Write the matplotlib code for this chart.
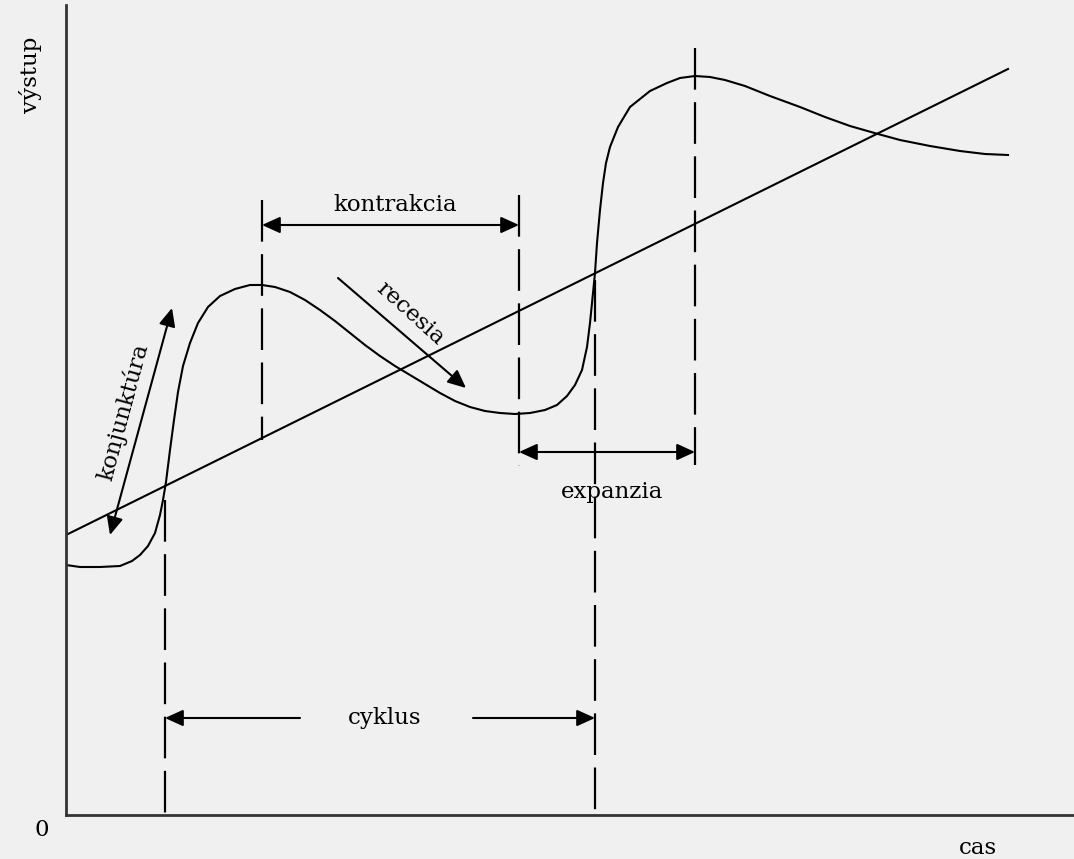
import matplotlib.pyplot as plt

plt.rcParams['lines.scale_dashes'] = False

# values (x grows to the right, y grows downward)
curve_x = [66, 80, 100, 120, 132, 140, 148, 155, 160, 163, 166, 170, 174, 178, 183, 190,
           198, 208, 220, 235, 250, 262, 275, 290, 305, 320, 335, 350, 365, 380, 395, 410,
           425, 440, 455, 470, 485, 500, 515, 530, 545, 557, 567, 575, 582, 587, 590, 593,
           595, 597, 600, 603, 606, 610, 618, 630, 640, 650, 667, 680, 695, 710, 725, 745,
           770, 800, 825, 850, 878, 900, 930, 960, 985, 1008]
curve_y = [565, 567, 567, 566, 561, 555, 546, 533, 515, 500, 482, 450, 420, 392, 366, 343,
           323, 307, 296, 289, 285, 285, 287, 292, 300, 310, 321, 333, 345, 356, 366, 375,
           384, 393, 401, 407, 411, 413, 414, 413, 410, 405, 396, 385, 370, 347, 323, 293,
           273, 243, 210, 183, 163, 147, 127, 107, 99, 91, 83, 78, 76, 77, 80, 86,
           96, 107, 117, 126, 134, 140, 146, 151, 154, 155]

trend_x = [66, 1008]
trend_y = [535, 69]

# vertical dashed markers: x, y top, y bottom
markers = [(165, 500, 815), (262, 200, 440), (519, 195, 466), (595, 280, 815), (695, 48, 465)]

fig = plt.figure(figsize=(10.74, 8.59), dpi=100, facecolor='#f0f0f0')
ax = fig.add_axes([66 / 1074, 44 / 859, 1008 / 1074, 810 / 859])
ax.set_facecolor('#f0f0f0')
ax.set_xlim(66, 1074)
ax.set_ylim(815, 5)
ax.set_xticks([])
ax.set_yticks([])
for side in ['top', 'right']:
    ax.spines[side].set_visible(False)
for side in ['left', 'bottom']:
    ax.spines[side].set_linewidth(2)
    ax.spines[side].set_color('#333333')

ax.plot(curve_x, curve_y, color='black', lw=1.5, solid_joinstyle='round')
ax.plot(trend_x, trend_y, color='black', lw=1.5)

for x, y0, y1 in markers:
    ax.plot([x, x], [y0, y1], color='black', lw=1.6, dashes=(30, 9))

font = dict(family='DejaVu Serif', fontsize=16.5, color='black')
arrow = dict(arrowstyle='-|>,head_length=1.1,head_width=0.5', color='black', lw=1.5,
             shrinkA=0, shrinkB=0)
darrow = dict(arrow, arrowstyle='<|-|>,head_length=1.1,head_width=0.5')

# kontrakcia
ax.annotate('', xy=(519, 225), xytext=(262, 225), arrowprops=darrow)
ax.text(395, 205, 'kontrakcia', ha='center', va='center', **font)

# expanzia
ax.annotate('', xy=(695, 452), xytext=(519, 452), arrowprops=darrow)
ax.text(612, 492, 'expanzia', ha='center', va='center', **font)

# cyklus
ax.annotate('', xy=(165, 718), xytext=(300, 718), arrowprops=arrow)
ax.annotate('', xy=(595, 718), xytext=(473, 718), arrowprops=arrow)
ax.text(385, 718, 'cyklus', ha='center', va='center', **font)

# konjunktura
ax.annotate('', xy=(172, 308), xytext=(110, 535), arrowprops=darrow)
ax.text(123, 412, 'konjunktúra', ha='center', va='center', rotation=75, **font)

# recesia
ax.annotate('', xy=(466, 388), xytext=(338, 278), arrowprops=arrow)
ax.text(410, 313, 'recesia', ha='center', va='center', rotation=-42, **font)

ax.text(30, 75, 'výstup', ha='center', va='center', rotation=90, clip_on=False, **font)
ax.text(42, 830, '0', ha='center', va='center', clip_on=False, **font)
ax.text(978, 848, 'cas', ha='center', va='center', clip_on=False, **font)

plt.savefig('out.png', dpi=100, facecolor='#f0f0f0')
